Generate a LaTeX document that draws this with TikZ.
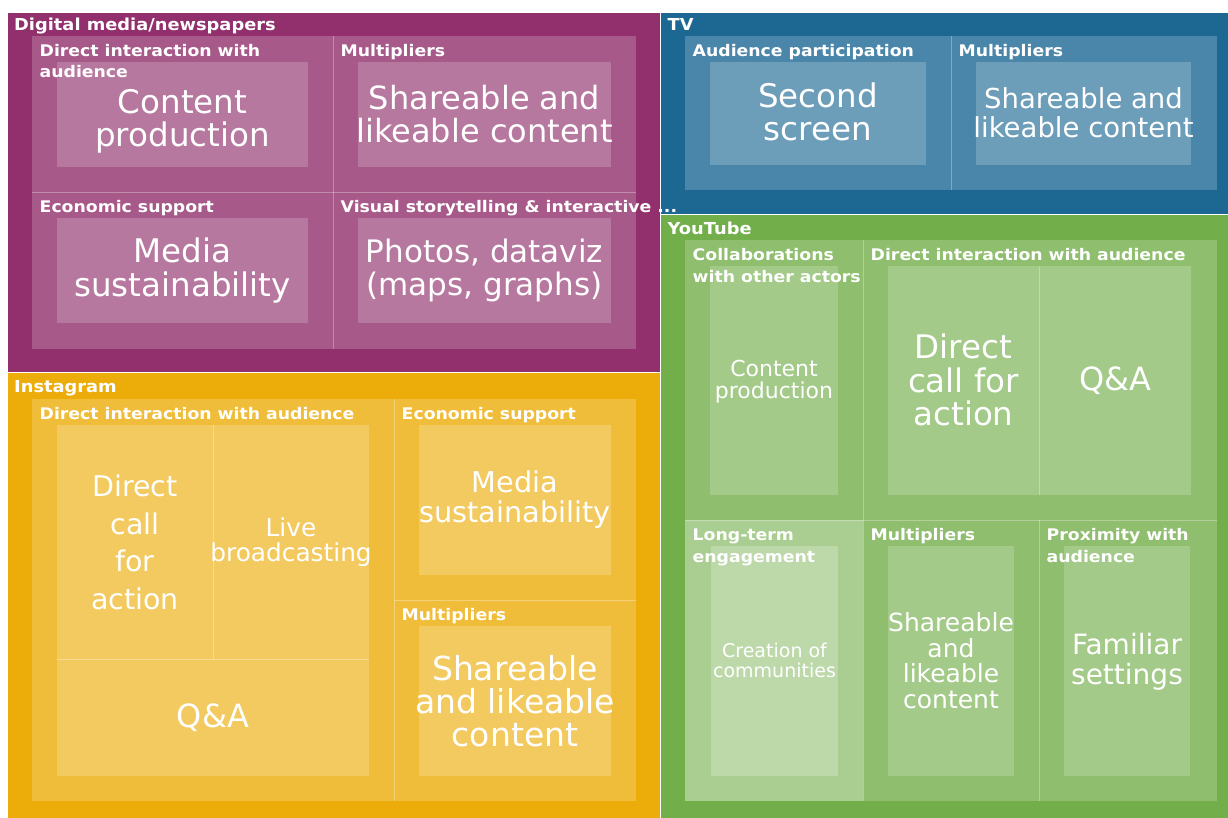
\documentclass[tikz,border=0pt]{standalone}
\usepackage{fontspec}
\setmainfont{DejaVu Sans}
\newfontfamily\lblfont[FakeStretch=1.08]{DejaVu Sans}
\definecolor{cDig}{RGB}{145,48,108}
\definecolor{cIns}{RGB}{236,173,10}
\definecolor{cTV}{RGB}{29,104,147}
\definecolor{cYT}{RGB}{114,174,74}
\newcommand\fz[2]{\fontsize{#1}{#2}\selectfont}
\tikzset{
  topbox/.style={fill=#1},
  midbox/.style={fill=#1!80!white},
  leafbox/.style={fill=#1!65!white},
  sepline/.style={draw=white, line width=1pt},
  divline/.style={draw=white, draw opacity=0.3, line width=0.9pt},
  toplbl/.style={anchor=base west, inner sep=0pt, text=white, font=\lblfont\bfseries\fontsize{16.5}{19}\selectfont},
  midlbl/.style={anchor=base west, inner sep=0pt, text=white, font=\lblfont\bfseries\fontsize{16}{21.5}\selectfont},
  leaflbl/.style={anchor=center, inner sep=0pt, text=white, align=center},
}
\begin{document}
\begin{tikzpicture}[x=1pt,y=-1pt]
\clip (0,0) rectangle (1228,818);
\fill[white] (0,0) rectangle (1228,818);
% ---------- level 1
\path[topbox=cDig] (8,13) rectangle (660.5,372.5);
\path[topbox=cIns] (8,372.5) rectangle (660.5,822);
\path[topbox=cTV] (660.5,13) rectangle (1232,214.5);
\path[topbox=cYT] (660.5,214.5) rectangle (1232,822);
% ---------- Digital media
\path[midbox=cDig] (32,36) rectangle (636,349);
\path[leafbox=cDig] (57,62) rectangle (308,167);
\path[leafbox=cDig] (358,62) rectangle (611,167);
\path[leafbox=cDig] (57,218) rectangle (308,323);
\path[leafbox=cDig] (358,218) rectangle (611,323);
\path[divline] (333,36) -- (333,349);
\path[divline] (32,192) -- (636,192);
% ---------- TV
\path[midbox=cTV] (685,36) rectangle (1216.5,190);
\path[leafbox=cTV] (710,62) rectangle (926,165);
\path[leafbox=cTV] (976,62) rectangle (1191,165);
\path[divline] (951,36) -- (951,190);
% ---------- YouTube
\path[midbox=cYT] (685,240) rectangle (1216.5,801);
\path[midbox=cYT, fill=cYT!60!white] (685,520) rectangle (863,801);
\path[leafbox=cYT] (710,266) rectangle (838,495);
\path[leafbox=cYT] (888,266) rectangle (1191,495);
\path[leafbox=cYT, fill=cYT!47!white] (711,546) rectangle (838,776);
\path[leafbox=cYT] (888,546) rectangle (1014,776);
\path[leafbox=cYT] (1064,546) rectangle (1190,776);
\path[divline] (863,240) -- (863,801);
\path[divline] (685,520) -- (1216.5,520);
\path[divline] (1039,520) -- (1039,801);
\path[divline] (1039,266) -- (1039,495);
% ---------- Instagram
\path[midbox=cIns] (32,399) rectangle (636,801);
\path[leafbox=cIns] (57,425) rectangle (369,776);
\path[leafbox=cIns] (419,425) rectangle (611,575);
\path[leafbox=cIns] (419,626) rectangle (611,776);
\path[divline] (394,399) -- (394,801);
\path[divline] (394,600) -- (636,600);
\path[divline] (213,425) -- (213,659);
\path[divline] (57,659) -- (369,659);
% ---------- top-level separators
\path[sepline] (660.5,13) -- (660.5,818);
\path[sepline] (8,372.5) -- (660.5,372.5);
\path[sepline] (660.5,214.5) -- (1228,214.5);
% ---------- level 1 labels
\node[toplbl] (lDig) at (14,31) {Digital media/newspapers};
\node[toplbl] (lIns) at (14,392.5) {Instagram};
\node[toplbl] (lTV) at (667.5,31) {TV};
\node[toplbl] (lYT) at (667.5,234.5) {YouTube};
% ---------- level 2 labels
\node[midlbl] (mDA) at (39.5,56.5) {\vtop{\hbox{Direct interaction with}\hbox{audience}}};
\node[midlbl] (mDB) at (340.5,56.5) {Multipliers};
\node[midlbl] (mDC) at (39.5,212.5) {Economic support};
\node[midlbl] (mDD) at (340.5,212.5) {Visual storytelling \& interactive ...};
\node[midlbl] (mTA) at (692.5,56.5) {Audience participation};
\node[midlbl] (mTB) at (958.5,56.5) {Multipliers};
\node[midlbl] (mYA) at (692.5,260.5) {\vtop{\hbox{Collaborations}\hbox{with other actors}}};
\node[midlbl] (mYB) at (870.5,260.5) {Direct interaction with audience};
\node[midlbl] (mYC) at (692.5,540.5) {\vtop{\hbox{Long-term}\hbox{engagement}}};
\node[midlbl] (mYD) at (870.5,540.5) {Multipliers};
\node[midlbl] (mYE) at (1046.5,540.5) {\vtop{\hbox{Proximity with}\hbox{audience}}};
\node[midlbl] (mIA) at (39.5,419) {Direct interaction with audience};
\node[midlbl] (mIB) at (401.5,419) {Economic support};
\node[midlbl] (mIC) at (401.5,620) {Multipliers};
% ---------- leaf labels
\node[leaflbl, font=\fz{32.5}{33.5}] (fDA) at (182.5,121.5) {Content\\production};
\node[leaflbl, font=\fz{32}{33}] (fDB) at (484.5,114) {Shareable and\\likeable content};
\node[leaflbl, font=\fz{32.5}{34}] (fDC) at (182.5,270.5) {Media\\sustainability};
\node[leaflbl, font=\fz{31}{32.5}] (fDD) at (484.5,270.5) {Photos, dataviz\\(maps, graphs)};
\node[leaflbl, font=\fz{32.5}{33}] (fTA) at (818,112) {Second\\screen};
\node[leaflbl, font=\fz{27.5}{28.5}] (fTB) at (1083.5,112.5) {Shareable and\\likeable content};
\node[leaflbl, font=\fz{22}{22.5}] (fYA) at (774,381.5) {Content\\production};
\node[leaflbl, font=\fz{32.5}{33.5}] (fYB1) at (963.5,380) {Direct\\call for\\action};
\node[leaflbl, font=\fz{32}{34}] (fYB2) at (1115,380.5) {Q\&A};
\node[leaflbl, font=\fz{19}{20}] (fYC) at (774.5,660.5) {Creation of\\communities};
\node[leaflbl, font=\fz{25}{25.5}] (fYD) at (951,660.5) {Shareable\\and\\likeable\\content};
\node[leaflbl, font=\fz{28}{30}] (fYE) at (1127,662) {Familiar\\settings};
\node[leaflbl, font=\fz{28.5}{37.5}] (fIA1) at (135,542.5) {Direct\\call\\for\\action};
\node[leaflbl, font=\fz{24.8}{25.5}] (fIA2) at (291,542) {Live\\broadcasting};
\node[leaflbl, font=\fz{32}{34}] (fIA3) at (213,717.5) {Q\&A};
\node[leaflbl, font=\fz{28.7}{30}] (fIB) at (515,500) {Media\\sustainability};
\node[leaflbl, font=\fz{33}{33}] (fIC) at (515,701) {Shareable\\and likeable\\content};
\end{tikzpicture}
\end{document}
